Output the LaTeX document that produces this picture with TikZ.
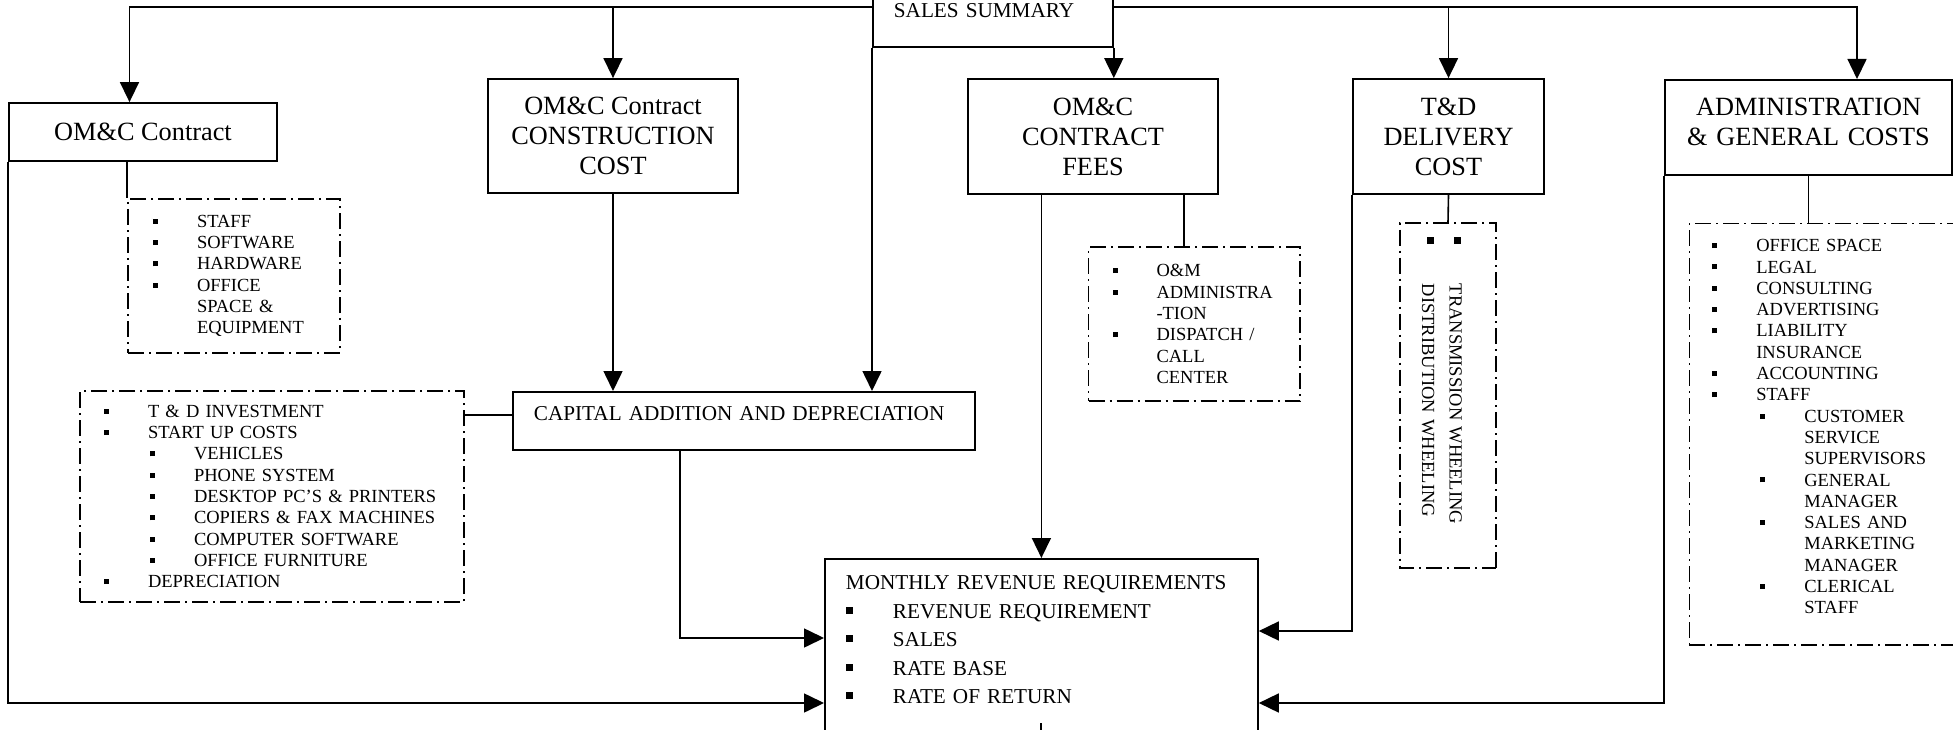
\documentclass[tikz,border=0pt]{standalone}
\usepackage{fontspec}
\setmainfont{Liberation Serif}
\usetikzlibrary{arrows.meta}

\newcommand{\sbul}{\makebox[44pt][l]{\rule[3.6pt]{5pt}{5pt}}}
\newcommand{\bbul}{\makebox[47pt][l]{\rule[4.5pt]{7pt}{7pt}}}
\newcommand{\ind}[1]{\hspace*{#1}}

\begin{document}
\begin{tikzpicture}[x=1pt, y=-1pt,
    box/.style={draw, line width=1.8pt, inner sep=0pt},
    title/.style={box, align=center, font=\fontsize{26.3}{30}\selectfont},
    list/.style={draw, line width=1.6pt, dash pattern=on 16pt off 5pt on 2pt off 5pt,
        align=left, inner ysep=0pt, font=\fontsize{18.5}{21.3}\selectfont},
    arr/.style={line width=1.6pt, -{Triangle[length=20pt, width=19pt]}},
    wire/.style={line width=1.6pt}]
    \useasboundingbox (0,0) rectangle (1953,730);
    \clip (0,0) rectangle (1953,730);

    % boxes
    \node[box, anchor=south west, text width=198pt, inner xsep=21pt, inner ysep=30pt,
        text height=60pt, text depth=0pt, align=left,
        font=\fontsize{21.2}{25}\selectfont] (sales) at (872,48) {SALES SUMMARY};
    \node[title, minimum width=268pt, minimum height=58pt] (omc) at (143,132) {OM\&C Contract};
    \node[title, minimum width=250pt, minimum height=114pt] (cons) at (613,136) {OM\&C Contract\\CONSTRUCTION\\COST};
    \node[title, minimum width=250pt, minimum height=115pt] (fees) at (1093,136.5) {OM\&C\\CONTRACT\\FEES};
    \node[title, minimum width=191pt, minimum height=115pt] (tnd) at (1448.5,136.5) {T\&D\\DELIVERY\\COST};
    \node[title, anchor=north, text width=267pt, inner xsep=10pt, inner ysep=18.3pt,
        text height=17.4pt, text depth=41pt] (admin) at (1808.5,79) {ADMINISTRATION\\\& GENERAL COSTS};
    \node[box, anchor=north west, text width=420pt, inner xsep=21pt, inner ysep=15pt,
        text height=14pt, text depth=14pt, align=left,
        font=\fontsize{21.2}{25}\selectfont] (capital) at (512,391) {CAPITAL ADDITION AND DEPRECIATION};
    \node[box, anchor=north west, text width=391pt, inner xsep=21pt, inner ysep=17pt,
        text height=14pt, text depth=250pt, align=left,
        font=\fontsize{21.2}{28.5}\selectfont] (rev) at (824,558)
        {MONTHLY REVENUE REQUIREMENTS\\ \bbul REVENUE REQUIREMENT\\ \bbul SALES\\ \bbul RATE BASE\\ \bbul RATE OF RETURN};

    % dash-dot lists
    \node[list, minimum width=212pt, minimum height=154pt, text width=162pt, inner xsep=25pt] (omclist) at (234,276)
        {\sbul STAFF\\ \sbul SOFTWARE\\ \sbul HARDWARE\\ \sbul OFFICE\\ \ind{44pt}SPACE \&\\ \ind{44pt}EQUIPMENT};
    \node[list, minimum width=384pt, minimum height=211pt, text width=336pt, inner xsep=24pt] (invlist) at (272,496.5)
        {\sbul T \& D INVESTMENT\\ \sbul START UP COSTS\\
         \ind{46pt}\sbul VEHICLES\\ \ind{46pt}\sbul PHONE SYSTEM\\
         \ind{46pt}\sbul DESKTOP PC'S \& PRINTERS\\ \ind{46pt}\sbul COPIERS \& FAX MACHINES\\
         \ind{46pt}\sbul COMPUTER SOFTWARE\\ \ind{46pt}\sbul OFFICE FURNITURE\\
         \sbul DEPRECIATION};
    \node[list, minimum width=211.5pt, minimum height=154pt, text width=163.5pt, inner xsep=24pt] (feeslist) at (1194.25,324)
        {\sbul O\&M\\ \sbul ADMINISTRA\\ \ind{44pt}-TION\\ \sbul DISPATCH /\\ \ind{44pt}CALL\\ \ind{44pt}CENTER};
    \node[list, rotate=-90, minimum width=345pt, minimum height=96pt, text width=317pt, inner xsep=14pt,
        text depth=15.5pt, font=\fontsize{18.5}{27.5}\selectfont] (tndlist) at (1448,395.2)
        {\bbul TRANSMISSION WHEELING\\ \bbul DISTRIBUTION WHEELING};
    \node[list, anchor=north west, text width=300pt, inner xsep=23pt, inner ysep=16pt,
        text height=12.2pt, text depth=377pt] (adminlist) at (1688.5,222.7)
        {\sbul OFFICE SPACE\\ \sbul LEGAL\\ \sbul CONSULTING\\ \sbul ADVERTISING\\
         \sbul LIABILITY\\ \ind{44pt}INSURANCE\\ \sbul ACCOUNTING\\ \sbul STAFF\\
         \ind{48pt}\sbul CUSTOMER\\ \ind{92pt}SERVICE\\ \ind{92pt}SUPERVISORS\\
         \ind{48pt}\sbul GENERAL\\ \ind{92pt}MANAGER\\
         \ind{48pt}\sbul SALES AND\\ \ind{92pt}MARKETING\\ \ind{92pt}MANAGER\\
         \ind{48pt}\sbul CLERICAL\\ \ind{92pt}STAFF};

    % bends
    \coordinate (topL) at (129.5,7);
    \coordinate (topR) at (1857,7);
    \coordinate (capbend) at (680,638);
    \coordinate (tndbend) at (1353,631);
    \coordinate (lowbend) at (8,703);
    \coordinate (revtick) at (1041,723);

    % connectors
    \draw[arr] (sales.west |- topL) -| (topL |- omc.north);
    \draw[arr] (cons.north |- topL) -- (cons.north);
    \draw[arr] (sales.east |- topR) -| (topR |- admin.north);
    \draw[arr] (tnd.north |- topR) -- (tnd.north);
    \draw[arr] (sales.south west) -- (sales.south west |- capital.north);
    \draw[arr] (sales.south east) -- (sales.south east |- fees.north);
    \draw[arr] (cons.south) -- (cons.south |- capital.north);
    \draw[arr] (rev.north |- fees.south) -- (rev.north);
    \draw[arr] (capbend |- capital.south) |- (rev.west |- capbend);
    \draw[arr] (omc.south west) |- (rev.west |- lowbend);
    \draw[arr] (tnd.south west) |- (rev.east |- tndbend);
    \draw[arr] (admin.south west) |- (rev.east |- lowbend);
    \draw[wire] (omclist.north west |- omc.south) -- (omclist.north west);
    \draw[wire] ([xshift=-10pt]feeslist.north |- fees.south) -- ([xshift=-10pt]feeslist.north);
    \draw[wire] (tnd.south) -- (tndlist.west);
    \draw[wire] (admin.south) -- (admin.south |- adminlist.north);
    \draw[wire] ([yshift=6pt]capital.west) -- ([yshift=6pt]capital.west -| invlist.east);
    \draw[wire] (revtick) -- ++(0,10);
\end{tikzpicture}
\end{document}
